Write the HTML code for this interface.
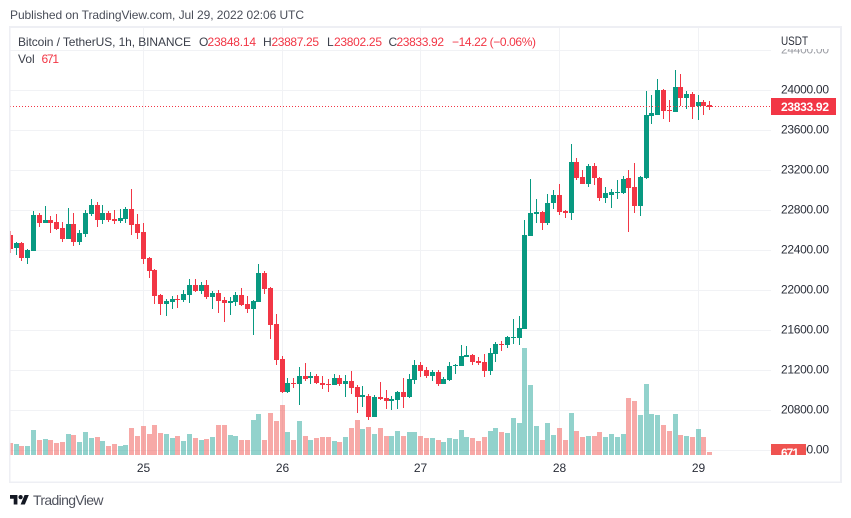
<!DOCTYPE html>
<html lang="en">
<head>
<meta charset="utf-8">
<title>Bitcoin / TetherUS chart</title>
<style>
html,body{margin:0;padding:0;background:#fff;width:851px;height:518px;overflow:hidden}
svg{display:block;font-family:"Liberation Sans",sans-serif}
</style>
</head>
<body>
<svg id="chart" xmlns="http://www.w3.org/2000/svg" width="851" height="518" viewBox="0 0 851 518">
  <defs>
    <clipPath id="pane-clip"><rect x="10" y="28" width="761" height="427"/></clipPath>
    <clipPath id="top-tick-clip"><rect x="771" y="49" width="69" height="20"/></clipPath>
    <clipPath id="vol-label-clip"><rect x="771" y="444" width="35" height="11"/></clipPath>
  </defs>
  <rect x="0" y="0" width="851" height="518" fill="#ffffff"/>
  <text x="10" y="19" font-size="12" fill="#4a4e59" textLength="294" lengthAdjust="spacing">Published on TradingView.com, Jul 29, 2022 02:06 UTC</text>
  <g id="grid"></g>
  <g id="vol" clip-path="url(#pane-clip)"></g>
  <g id="candles" clip-path="url(#pane-clip)"></g>
  <line id="last-line" x1="10" x2="771" stroke="#f23645" stroke-width="1" stroke-dasharray="1 2"/>
  <g id="axis"></g>
  <g id="time"></g>
  <text x="781" y="45" font-size="12" fill="#2a2e39" textLength="27" lengthAdjust="spacingAndGlyphs">USDT</text>

  <g font-size="12">
    <text x="18" y="46" fill="#3c404b" textLength="173" lengthAdjust="spacing">Bitcoin / TetherUS, 1h, BINANCE</text>
    <text x="199" y="46" fill="#3c404b">O</text>
    <text x="207.5" y="46" fill="#f23645" textLength="48.5" lengthAdjust="spacing">23848.14</text>
    <text x="263" y="46" fill="#3c404b">H</text>
    <text x="271.5" y="46" fill="#f23645" textLength="47.5" lengthAdjust="spacing">23887.25</text>
    <text x="327" y="46" fill="#3c404b">L</text>
    <text x="334" y="46" fill="#f23645" textLength="48" lengthAdjust="spacing">23802.25</text>
    <text x="388.5" y="46" fill="#3c404b">C</text>
    <text x="396.5" y="46" fill="#f23645" textLength="47.5" lengthAdjust="spacing">23833.92</text>
    <text x="452" y="46" fill="#f23645" textLength="84" lengthAdjust="spacing">−14.22 (−0.06%)</text>
    <text x="18" y="63" fill="#3c404b">Vol</text>
    <text x="41.5" y="63" fill="#f23645" textLength="17.5" lengthAdjust="spacing">671</text>
  </g>

  <g fill="#eeeff4" shape-rendering="crispEdges">
    <rect x="9" y="26" width="833" height="2"/>
    <rect x="9" y="26" width="1" height="457"/>
    <rect x="10" y="26" width="1" height="457" opacity="0.55"/>
    <rect x="840" y="26" width="2" height="457"/>
    <rect x="9" y="481.5" width="833" height="1.5"/>
  </g>

  <g>
    <g transform="translate(10,492.9) scale(0.53)" fill="#131722">
      <path d="M14 22H7V11H0V4h14v18zM28 22h-8l7.5-18h8L28 22z"/>
      <circle cx="20" cy="8" r="4"/>
    </g>
    <text x="33" y="505" font-size="14" fill="#50535e" textLength="70.5" lengthAdjust="spacing">TradingView</text>
  </g>
</svg>
<script>
var opens = [
22550,22420,22470,22320,22390,22750,22670,22700,22680,22620,
22510,22660,22480,22560,22760,22850,22700,22770,22710,22690,
22710,22810,22660,22580,22320,22200,21950,21860,21880,21910,
21900,21950,22050,21990,22050,21930,21970,21900,21870,21880,
21950,21860,21810,21880,22170,22020,21660,21310,20980,21070,
21060,21140,21120,21140,21070,21060,21050,21120,21060,21090,
21030,20930,20940,20730,20930,20920,20890,20900,20980,20930,
21100,21250,21200,21140,21180,21060,21100,21240,21240,21330,
21350,21290,21280,21190,21360,21460,21450,21520,21520,21610,
22540,22760,22780,22670,22870,22950,22790,22770,23280,23130,
23060,23240,23120,22920,22950,22970,22970,23120,23030,22840,
23120,23740,23750,24000,23800,23780,24030,23920,23960,23840,
23880,23848.14];
var highs = [
22590,22480,22480,22410,22790,22770,22840,22740,22760,22680,
22820,22770,22600,22800,22910,22880,22850,22790,22800,22810,
22830,23010,22760,22670,22330,22210,21960,21910,21940,21950,
22000,22110,22110,22080,22100,21990,22000,21930,21930,21980,
22020,21940,21900,22260,22190,22030,21760,21340,21120,21120,
21230,21270,21180,21160,21140,21110,21160,21150,21150,21190,
21050,21040,20960,20950,21080,21000,20940,20990,21120,21160,
21300,21280,21230,21200,21200,21130,21280,21260,21450,21440,
21360,21330,21360,21420,21480,21490,21540,21710,21740,22700,
23110,22910,22790,22960,23000,23060,22800,23460,23320,23200,
23260,23270,23130,23030,23010,23100,23140,23200,23270,23140,
23990,23950,24110,24010,23900,24200,24160,23990,23980,23950,
23900,23887.25];
var lows = [
22370,22350,22290,22260,22390,22630,22670,22570,22600,22480,
22510,22440,22450,22530,22740,22630,22660,22680,22660,22670,
22670,22550,22510,22260,22120,21860,21750,21740,21810,21820,
21880,21870,21980,21960,21910,21810,21770,21680,21750,21840,
21840,21770,21550,21880,21960,21510,21250,20970,20970,21020,
20850,21090,21060,21060,21010,20980,21050,21040,20930,20960,
20770,20830,20700,20730,20900,20810,20800,20810,20820,20920,
21060,21130,21120,21090,21040,21060,21090,21160,21240,21330,
21250,21250,21130,21150,21280,21390,21420,21460,21450,21610,
22540,22670,22600,22650,22810,22750,22720,22700,23100,23060,
23030,23050,22890,22870,22820,22910,22960,22580,22770,22740,
23110,23660,23750,23710,23680,23780,23840,23810,23710,23700,
23750,23802.25];
var closes = [
22410,22470,22320,22400,22750,22670,22700,22670,22610,22510,
22660,22480,22570,22770,22850,22700,22770,22700,22690,22720,
22810,22650,22570,22310,22190,21940,21860,21890,21910,21900,
21960,22050,21990,22050,21930,21970,21890,21870,21890,21950,
21850,21810,21890,22170,22010,21650,21300,20980,21070,21060,
21140,21110,21140,21070,21050,21050,21120,21060,21090,21020,
20930,20950,20730,20930,20910,20890,20910,20980,20930,21110,
21250,21190,21140,21180,21060,21110,21240,21250,21340,21350,
21280,21270,21190,21370,21460,21450,21530,21530,21620,22550,
22770,22780,22670,22870,22950,22780,22770,23280,23120,23060,
23240,23120,22920,22970,22980,22980,23110,23020,22840,23130,
23750,23770,24000,23790,23790,24030,23920,23960,23830,23880,
23840,23833.92];
var volumes = [
2400,2200,1800,1800,5000,3000,3200,3000,2400,2600,
4200,4000,2600,4600,3400,3600,2800,1800,2200,1800,
2000,5400,3800,5800,4200,6000,4400,4200,3400,3800,
2800,4200,3400,3000,3200,3600,6000,6000,4000,3800,
3000,3000,7000,8200,3000,8400,6800,10000,4600,3000,
6800,3800,3000,3400,3600,3600,2800,2600,3600,5400,
7000,5200,5600,4200,5400,3800,3800,4800,3800,4600,
4600,3800,3400,3400,3000,2600,3400,3200,5000,3600,
3400,2800,3600,4800,5400,4600,4400,7400,6400,21400,
14000,5800,3000,6400,4000,5400,3000,8400,4800,3600,
3800,3800,4600,3600,4200,3600,4200,11400,10800,8000,
14200,8200,8000,6000,4800,8200,4000,3800,3600,5200,
3600,671];
var priceTicks = [20400,20800,21200,21600,22000,22400,22800,23200,23600,24000,24400];
var dayLabels = ['25','26','27','28','29'];
var dayBarIndex = [23,47,71,95,119];
var lastPrice = 23833.92;
var lastVolume = 671;

var NS = 'http://www.w3.org/2000/svg';
var UP = '#089981', DOWN = '#f23645', UP_VOL = '#26a69a', DOWN_VOL = '#ef5350';
function xScale(i){ return Math.floor(10.36 + i * 5.78); }
function yScale(p){ return 90 + (24000 - p) / 10; }
function volHeight(v){ return Math.round(v / 200); }
function mk(tag, parent){ var e = document.createElementNS(NS, tag); parent.appendChild(e); return e; }
function attrs(e, o){ for (var k in o) e.setAttribute(k, o[k]); }

var gridG = document.getElementById('grid');
var volG = document.getElementById('vol');
var candleG = document.getElementById('candles');
var axisG = document.getElementById('axis');
var timeG = document.getElementById('time');

priceTicks.forEach(function(p){
  var row = Math.round(yScale(p));
  var line = mk('rect', gridG);
  
  
  attrs(line, {x: 10, y: row, width: 761, height: 1, fill: '#f1f2f5', 'shape-rendering': 'crispEdges'});
});
dayBarIndex.forEach(function(i){
  var line = mk('rect', gridG);
  
  
  attrs(line, {x: xScale(i), y: 28, width: 1, height: 427, fill: '#f1f2f5', 'shape-rendering': 'crispEdges'});
});

volumes.forEach(function(v, i){
  var h = volHeight(v);
  var bar = mk('rect', volG);
  
  
  attrs(bar, {x: xScale(i) - 2, y: 455 - h, width: 5, height: h,
    fill: closes[i] >= opens[i] ? UP_VOL : DOWN_VOL, 'fill-opacity': 0.5, 'shape-rendering': 'crispEdges'});
});

opens.forEach(function(o, i){
  var c = closes[i], col = closes[i] >= o ? UP : DOWN, px = xScale(i);
  var g = mk('g', candleG);
  
  
  var top = Math.round(yScale(Math.max(o, c)));
  var bot = Math.round(yScale(Math.min(o, c)));
  var hi = Math.round(yScale(highs[i]));
  var lo = Math.round(yScale(lows[i]));
  var wick = mk('rect', g);
  
  
  attrs(wick, {x: px, y: hi, width: 1, height: Math.max(lo - hi, 1), fill: col, 'shape-rendering': 'crispEdges'});
  var body = mk('rect', g);
  
  
  attrs(body, {x: px - 2, y: top, width: 5, height: Math.max(bot - top, 1), fill: col, 'shape-rendering': 'crispEdges'});
});

var lastRow = Math.floor(yScale(lastPrice)) + 0.5;
var lastLine = document.getElementById('last-line');
lastLine.setAttribute('y1', lastRow);
lastLine.setAttribute('y2', lastRow);

priceTicks.forEach(function(p){
  var t = mk('text', axisG);
  
  
  attrs(t, {x: 781, y: yScale(p) + 3.6, 'font-size': 12, fill: p === 24400 ? '#9a9ca3' : '#2a2e39', textLength: 48, lengthAdjust: 'spacing'});
  if (p === 24400) t.setAttribute('clip-path', 'url(#top-tick-clip)');
  t.textContent = p.toFixed(2);
});

var priceBox = mk('rect', axisG);


attrs(priceBox, {x: 771, y: 98, width: 65, height: 17, fill: DOWN, 'shape-rendering': 'crispEdges'});
var priceText = mk('text', axisG);


attrs(priceText, {x: 781, y: 111, 'font-size': 12, 'font-weight': 'bold', fill: '#ffffff', textLength: 48, lengthAdjust: 'spacing'});
priceText.textContent = lastPrice.toFixed(2);

var volBox = mk('rect', axisG);


attrs(volBox, {x: 771, y: 444, width: 35, height: 11, fill: DOWN_VOL, 'shape-rendering': 'crispEdges'});
var volText = mk('text', axisG);


attrs(volText, {x: 781, y: 457, 'font-size': 12, 'font-weight': 'bold', fill: '#ffffff', 'clip-path': 'url(#vol-label-clip)', textLength: 18, lengthAdjust: 'spacing'});
volText.textContent = String(lastVolume);

dayLabels.forEach(function(label, k){
  var t = mk('text', timeG);
  
  
  attrs(t, {x: xScale(dayBarIndex[k]) + 0.5, y: 472, 'font-size': 12, fill: '#2a2e39', 'text-anchor': 'middle'});
  t.textContent = label;
});
</script>
</body>
</html>
